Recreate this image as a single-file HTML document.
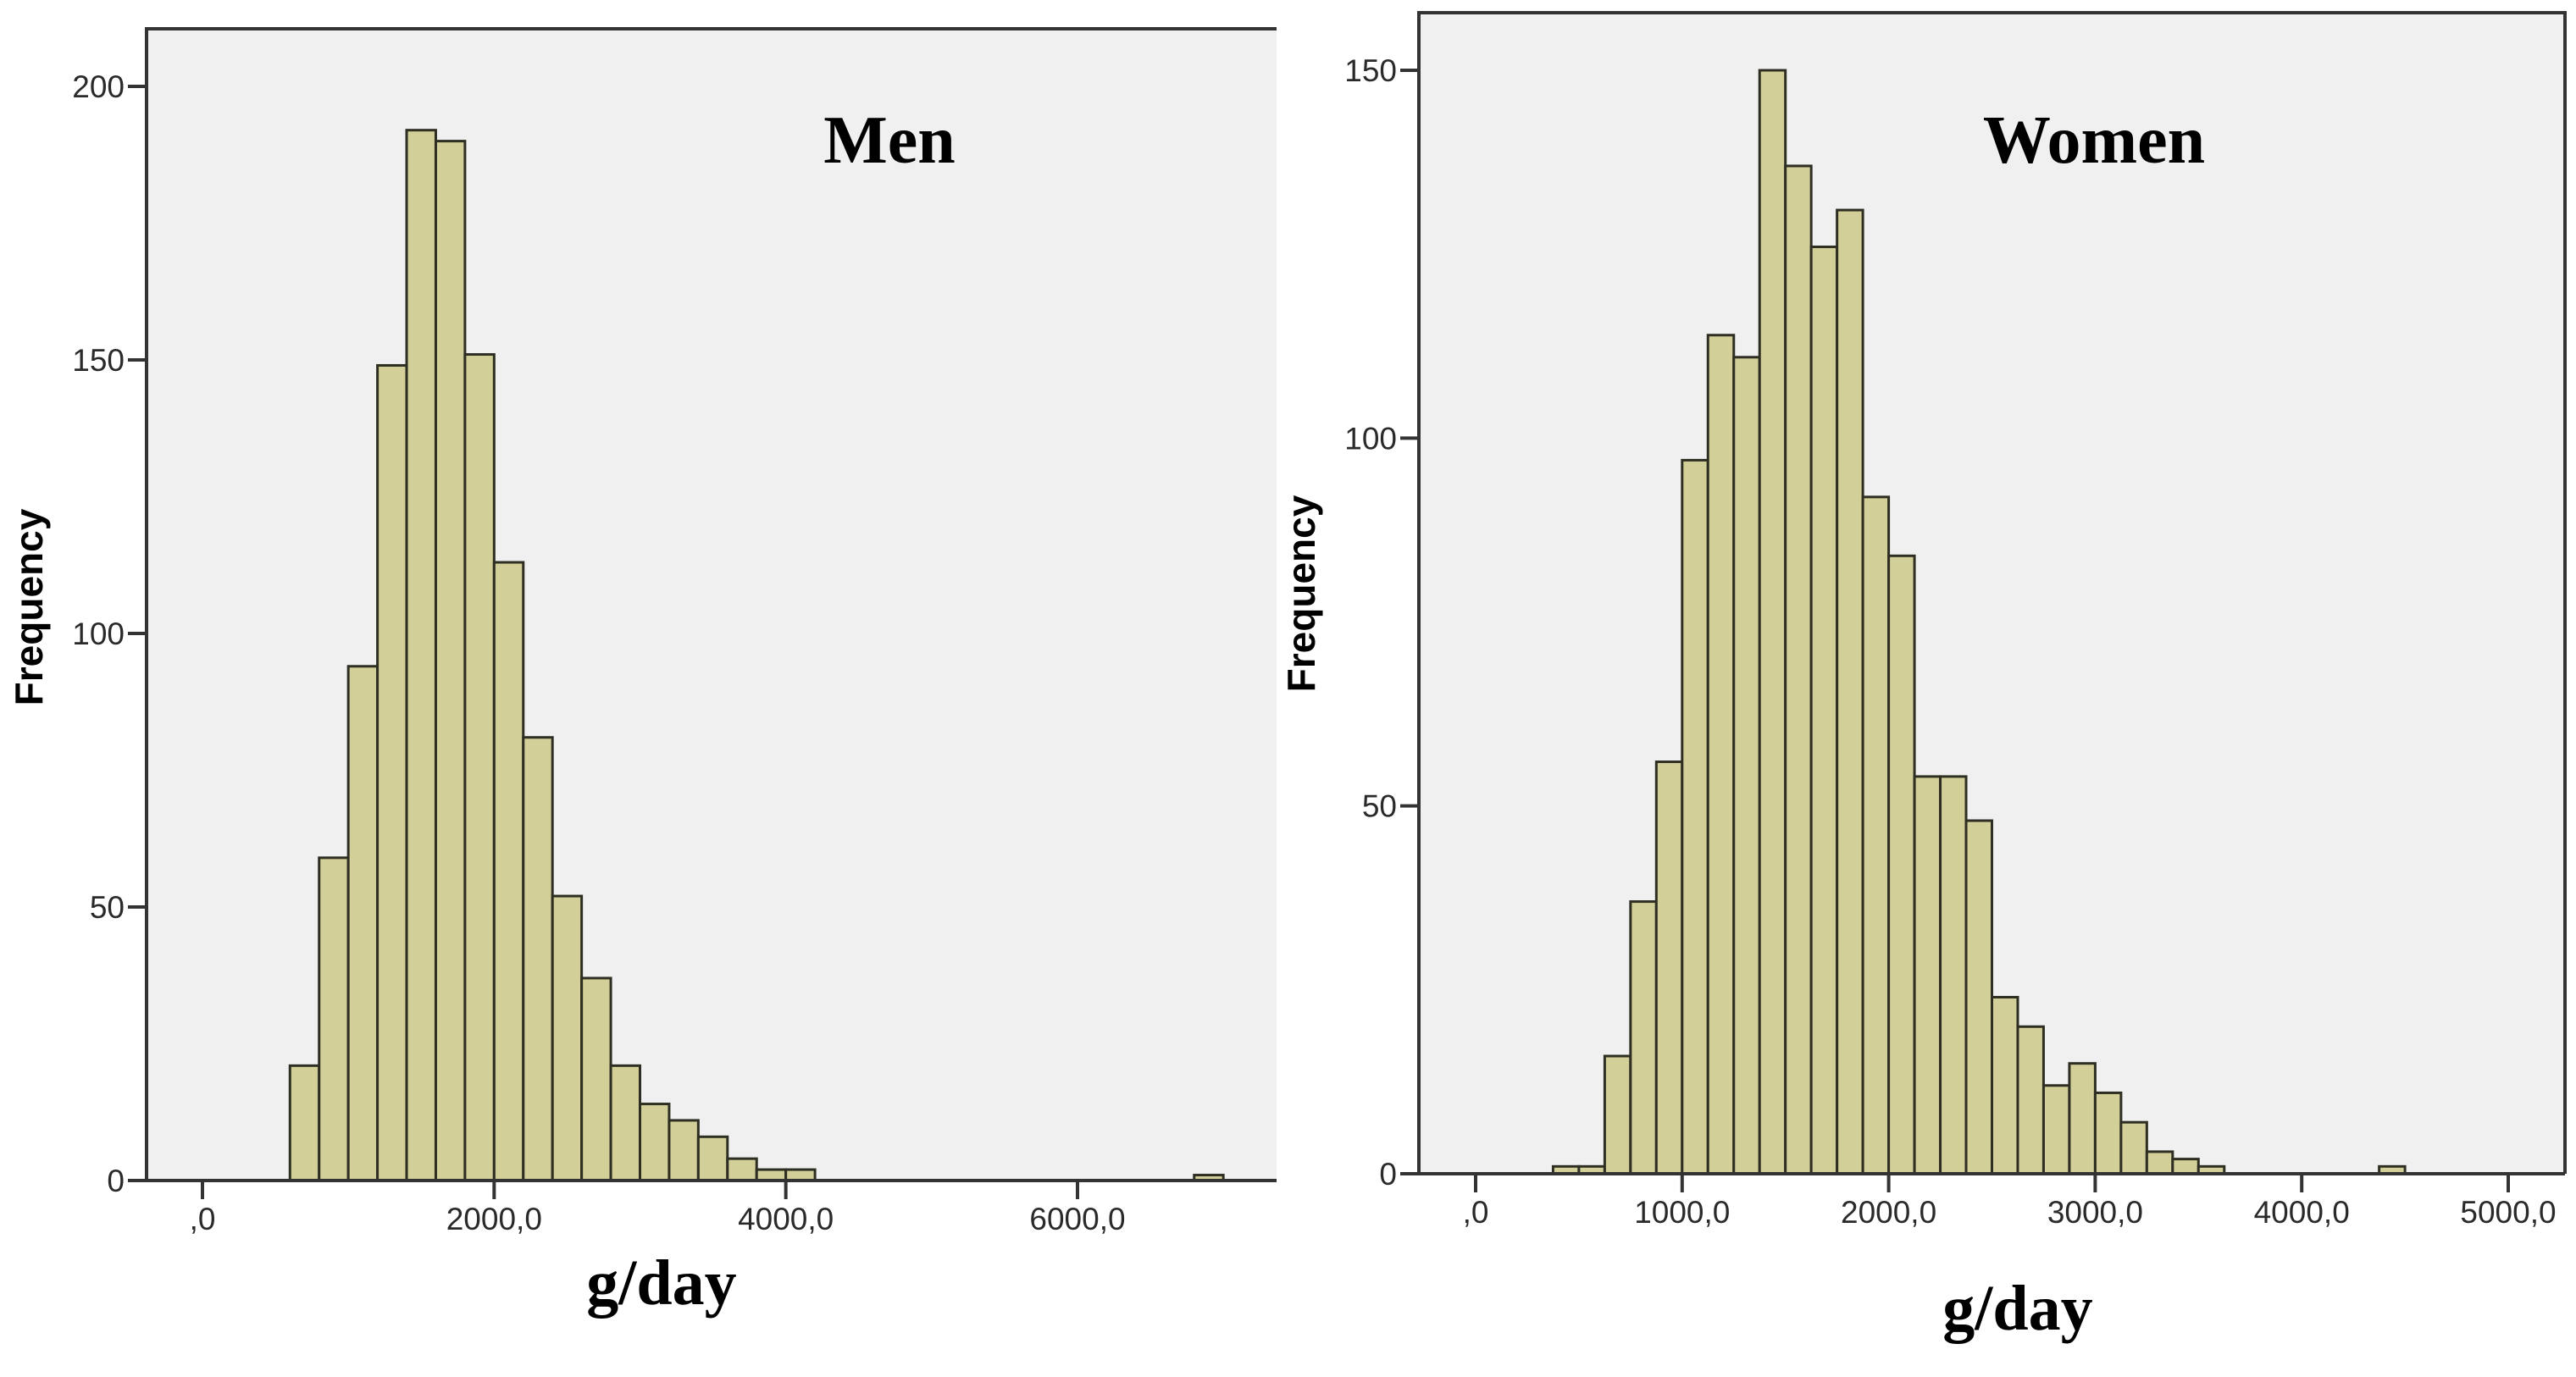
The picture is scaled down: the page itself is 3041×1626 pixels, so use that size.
<!DOCTYPE html>
<html><head><meta charset="utf-8"><style>
html,body{margin:0;padding:0;background:#fff;}
svg{display:block;}
.tick{font-family:"Liberation Sans",sans-serif;font-size:37px;fill:#2a2a2a;}
.ttl{font-family:"Liberation Serif",serif;font-weight:bold;fill:#000;}
.ylab{font-family:"Liberation Sans",sans-serif;font-weight:bold;font-size:46px;fill:#000;}
</style></head><body>
<svg id="chart" width="3041" height="1626" viewBox="0 0 3041 1626" xmlns="http://www.w3.org/2000/svg">
<g id="men"></g>
<g id="women"></g>
</svg>
<script>
const menBinStart = 600;
const menBinWidth = 200;
const menCounts = [21,59,94,149,192,190,151,113,81,52,37,21,14,11,8,4,2,2];
const menOutlierStart = [6800];
const menOutlierCount = [1];
const menYTicks = [0,50,100,150,200];
const menXTicks = [0,2000,4000,6000];
const menXTickLabels = [",0","2000,0","4000,0","6000,0"];

const womenBinStart = 375;
const womenBinWidth = 125;
const womenCounts = [1,1,16,37,56,97,114,111,150,137,126,131,92,84,54,54,48,24,20,12,15,11,7,3,2,1];
const womenOutlierStart = [4375];
const womenOutlierCount = [1];
const womenYTicks = [0,50,100,150];
const womenXTicks = [0,1000,2000,3000,4000,5000];
const womenXTickLabels = [",0","1000,0","2000,0","3000,0","4000,0","5000,0"];

const NS = "http://www.w3.org/2000/svg";
function mk(parent, tag, attrs, text){
  const e = document.createElementNS(NS, tag);
  for (const k in attrs) e.setAttribute(k, attrs[k]);
  if (text !== undefined) e.textContent = text;
  parent.appendChild(e);
  return e;
}

function drawPanel(g, cfg){
  const xs = v => cfg.x0 + v * cfg.kx;
  const ys = v => cfg.yAxis - v * cfg.ky;
  const bg = mk(g, 'rect', {x:cfg.left, y:cfg.top, width:cfg.right-cfg.left, height:cfg.yAxis-cfg.top, fill:'#f0f0f0'});
  
  
  const all = cfg.counts.map((c,i)=>({s:cfg.binStart+i*cfg.binWidth, c:c}));
  cfg.outS.forEach((s,i)=>all.push({s:s, c:cfg.outC[i]}));
  all.forEach((b,i)=>{
    if (b.c <= 0) return;
    const r = mk(g, 'rect', {x:xs(b.s), y:ys(b.c), width:cfg.binWidth*cfg.kx, height:b.c*cfg.ky,
      fill:'#d3cf98', stroke:'#2e2e22', 'stroke-width':3});
    
    
  });
  const fr = mk(g, 'path', {d:`M${cfg.left},${cfg.yAxis} L${cfg.left},${cfg.top} L${cfg.right},${cfg.top}` + (cfg.rightBorder?` L${cfg.right},${cfg.yAxis}`:''), fill:'none', stroke:'#333', 'stroke-width':4});
  
  
  const xa = mk(g, 'line', {x1:cfg.left-22, y1:cfg.yAxis, x2:cfg.right, y2:cfg.yAxis, stroke:'#333', 'stroke-width':4});
  
  
  cfg.yTicks.forEach(t=>{
    const y = ys(t);
    const l = mk(g, 'line', {x1:cfg.left-22, y1:y, x2:cfg.left, y2:y, stroke:'#333', 'stroke-width':4});
    
    
    const tx = mk(g, 'text', {x:cfg.left-26, y:y+13, 'text-anchor':'end', class:'tick'}, String(t));
    
    
  });
  cfg.xTicks.forEach((t,i)=>{
    const x = xs(t);
    const l = mk(g, 'line', {x1:x, y1:cfg.yAxis, x2:x, y2:cfg.yAxis+22, stroke:'#333', 'stroke-width':4});
    
    
    const tx = mk(g, 'text', {x:x, y:cfg.yAxis+58, 'text-anchor':'middle', class:'tick'}, cfg.xLabels[i]);
    
    
  });
  const ttl = mk(g, 'text', {x:cfg.titleX, y:192, 'text-anchor':'middle', class:'ttl', 'font-size':80}, cfg.title);
  
  
  const xt = mk(g, 'text', {x:cfg.xTitleX, y:cfg.xTitleY, 'text-anchor':'middle', class:'ttl', 'font-size':76}, 'g/day');
  
  
  const yt = mk(g, 'text', {x:0, y:0, 'text-anchor':'middle', class:'ylab', transform:`translate(${cfg.yTitleX},${cfg.yTitleY}) rotate(-90)`}, 'Frequency');
  
  
}

drawPanel(document.getElementById('men'), {
  left:173, top:34, right:1507, yAxis:1394, rightBorder:false,
  x0:239, kx:(1272-239)/6000, ky:(1394-102)/200,
  binStart:menBinStart, binWidth:menBinWidth, counts:menCounts,
  outS:menOutlierStart, outC:menOutlierCount,
  yTicks:menYTicks, xTicks:menXTicks, xLabels:menXTickLabels,
  title:'Men', titleX:1050, xTitleX:781, xTitleY:1540, yTitleX:50, yTitleY:717
});
drawPanel(document.getElementById('women'), {
  left:1675, top:15, right:3028, yAxis:1386, rightBorder:true,
  x0:1742, kx:(2961-1742)/5000, ky:(1386-83)/150,
  binStart:womenBinStart, binWidth:womenBinWidth, counts:womenCounts,
  outS:womenOutlierStart, outC:womenOutlierCount,
  yTicks:womenYTicks, xTicks:womenXTicks, xLabels:womenXTickLabels,
  title:'Women', titleX:2472, xTitleX:2382, xTitleY:1570, yTitleX:1552, yTitleY:701
});
</script>
</body></html>
